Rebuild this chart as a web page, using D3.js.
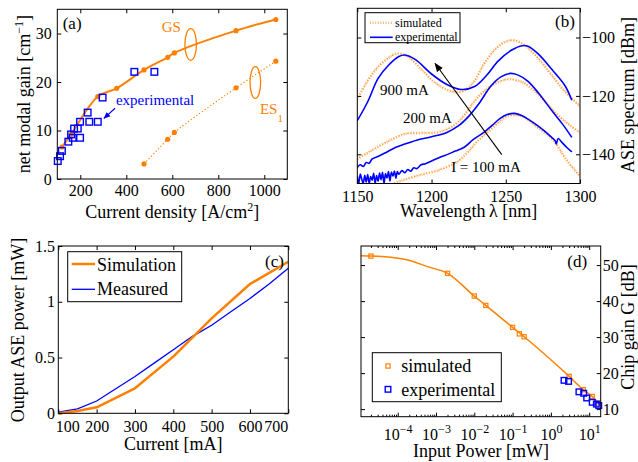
<!DOCTYPE html>
<meta charset="utf-8">
<style>
body, html { margin: 0; padding: 0; background: #fff; }
svg { display: block; font-family: "Liberation Serif", "Times New Roman", serif; }
</style>
<body>
<script src="https://d3js.org/d3.v7.min.js"></script>
<script>

// (a) net modal gain vs current density
var gsDensity = [120, 160, 276, 358, 477, 580, 609, 877, 1050]
var gsGain = [6.6, 9.2, 17.0, 18.7, 22.5, 25.1, 26.0, 30.6, 32.9]
var es1Density = [477, 580, 609, 877, 1050]
var es1Gain = [3.1, 8.2, 9.6, 18.8, 24.3]
var expDensity = [102, 112, 120, 148, 160, 167, 173, 189, 199, 199, 232, 239, 276, 297, 435, 522]
var expGain = [3.7, 4.7, 5.8, 7.7, 9.2, 8.5, 10.4, 10.4, 8.5, 11.8, 13.7, 11.8, 11.8, 16.8, 22.1, 22.1]
var densityTicks = [200, 400, 600, 800, 1000]
var gainTicks = [0, 10, 20, 30]

// (b) ASE spectra, [wavelength nm, dBm]
var exp900 = [[1150,-128.5],[1157,-122],[1164,-114],[1171,-109.5],[1178,-106.5],[1182,-106],[1189,-107.5],[1200,-112.5],[1210,-116],[1220,-117.8],[1229,-116.8],[1237,-113],[1245,-108],[1254,-104.3],[1261,-102.8],[1265,-103],[1272,-105.7],[1281,-110.9],[1290,-116.6],[1294.5,-121.5]]
var exp200 = [[1150,-144.5],[1152,-143.6],[1154,-144.2],[1156,-142.8],[1158,-143.1],[1160,-141.6],[1165,-140.5],[1170,-139.2],[1176,-137.6],[1182,-136.5],[1190,-135.2],[1200,-134],[1210,-132.6],[1218,-130.3],[1225,-127],[1232,-122.6],[1240,-116.6],[1247,-113.4],[1253,-112.3],[1258,-112.8],[1265,-115],[1272,-119],[1281,-125],[1288,-129.5],[1294.5,-134.2]]
var exp100 = [[1150,-147.5],[1151,-150],[1152,-146.8],[1153,-148.5],[1154,-150],[1155,-147.2],[1156,-149.5],[1157,-146.9],[1158,-150],[1159,-147.6],[1160,-148.9],[1161,-146.5],[1162,-150],[1163,-147.3],[1164,-149.2],[1165,-146.4],[1166,-148.7],[1167,-146.2],[1168,-150],[1169,-146.6],[1170,-148.1],[1171,-145.9],[1172,-149.1],[1173,-146.1],[1174,-147.5],[1175,-145.7],[1176,-148.2],[1177,-145.9],[1178,-146.8],[1180,-145.6],[1182,-146.3],[1184,-145.2],[1186,-145.8],[1188,-144.6],[1190,-144.9],[1193,-143.6],[1196,-143.2],[1200,-142.3],[1205,-141.2],[1210,-140.2],[1216,-138.9],[1222,-137.6],[1228,-135],[1235,-132.6],[1241,-130],[1246,-127.8],[1251,-126.4],[1256,-126],[1261,-126.8],[1266,-128.3],[1271,-130],[1276,-132],[1280,-133.8],[1283.3,-135.4],[1284,-136.5],[1285.3,-134.6],[1288,-136],[1291,-137.6],[1294.5,-139.2]]
var sim900 = [[1150,-121],[1155,-116.5],[1160,-112.5],[1165,-109.5],[1171,-107],[1177,-105.5],[1184,-106.5],[1193,-110.8],[1202,-115.3],[1211,-118],[1220,-118.6],[1228,-115.5],[1236,-108.5],[1244,-103.5],[1251,-101.2],[1256,-101],[1262,-102.4],[1271,-106.6],[1280,-112.3],[1289,-118],[1300,-123.5]]
var sim200 = [[1150,-141.5],[1156,-139.8],[1162,-138],[1171,-135.5],[1182,-133],[1193,-132.7],[1205,-132.4],[1216,-129.8],[1223,-126],[1231,-120.5],[1242,-116],[1251,-114.3],[1256,-114.5],[1262,-115.5],[1271,-119],[1284,-126],[1293,-130],[1300,-132.5]]
var sim100 = [[1170,-151],[1180,-149],[1193,-147],[1205,-145.4],[1218,-142.3],[1224,-139.5],[1231,-135.5],[1242,-130.5],[1251,-127],[1257,-126.6],[1262,-127.2],[1271,-130.6],[1282,-135.2],[1291,-142],[1300,-147.5]]
var wavelengthTicks = [1150, 1200, 1250, 1300]
var aseTicks = [-140, -120, -100]

// (c) output ASE power vs current
var simCurrent = [100, 150, 200, 300, 400, 500, 600, 700]
var simPower = [0, 0.02, 0.054, 0.224, 0.508, 0.851, 1.159, 1.359]
var measCurrent = [100, 150, 200, 250, 300, 350, 400, 450, 500, 550, 600, 650, 700]
var measPower = [0.01, 0.04, 0.11, 0.22, 0.33, 0.45, 0.57, 0.69, 0.79, 0.91, 1.03, 1.16, 1.30]
var currentTicks = [100, 200, 300, 400, 500, 600, 700]
var powerTicks = [0, 0.5, 1, 1.5]

// (d) chip gain vs input power
var simInput = [2e-5, 2e-3, 1e-2, 2e-2, 0.1, 0.15, 0.2, 3, 7, 12, 17]
var simChipGain = [52.5, 47.7, 41.4, 38.8, 32.7, 30.9, 30.1, 19.1, 15.4, 13.5, 11.7]
var fitInput = [1.1e-5, 2e-5, 1.5e-4, 6.3e-4, 2e-3, 1e-2, 2e-2, 0.1, 0.2, 3, 7, 12, 19]
var fitChipGain = [52.6, 52.5, 51.6, 49.5, 47.7, 41.4, 38.8, 32.7, 30.1, 19.1, 15.4, 13.5, 11.3]
var expInput = [2.2, 2.9, 5.4, 7.2, 8.6, 12, 15.4, 17.8]
var expChipGain = [18.0, 17.7, 14.8, 14.4, 13.1, 11.9, 11.4, 11.0]
var inputTicks = [1e-4, 1e-3, 1e-2, 1e-1, 1, 10]
var chipGainTicks = [10, 20, 30, 40, 50]

var orange = "#ff8000",
    blue = "#0000ff",
    tickLen = 4

var svg = d3.select("body").append("svg")
    .attr("width", 638)
    .attr("height", 462)

var defs = svg.append("defs")
function arrowHead (id, color, size) {
  defs.append("marker")
      .attr("id", id)
      .attr("viewBox", "0 0 10 10")
      .attr("refX", 9).attr("refY", 5)
      .attr("markerWidth", size).attr("markerHeight", size)
      .attr("markerUnits", "userSpaceOnUse")
      .attr("orient", "auto")
    .append("path")
      .attr("d", "M0,1L10,5L0,9Z")
      .attr("fill", color)
}
arrowHead("arrowBlack", "#000", 9)
arrowHead("arrowBlue", blue, 7)

function noText () { return "" }

function frame (g, x, y, o) {
  var x0 = x.range()[0], x1 = x.range()[1], y0 = y.range()[0], y1 = y.range()[1]
  var fmt = d3.format("d")
  function clean (s) {
    s.attr("font-family", null).attr("font-size", 16)
    s.select(".domain").remove()
  }
  var bottom = g.append("g").attr("transform", "translate(0," + y0 + ")")
    .call(d3.axisBottom(x).tickValues(o.xTicks).tickSize(-tickLen).tickPadding(o.xPad).tickFormat(o.xFormat || fmt))
    .call(clean)
  g.append("g").attr("transform", "translate(0," + y1 + ")")
    .call(d3.axisTop(x).tickValues(o.xTicks).tickSize(-tickLen).tickFormat(noText))
    .call(clean)
  g.append("g").attr("transform", "translate(" + x0 + ",0)")
    .call(d3.axisLeft(y).tickValues(o.yTicks).tickSize(-tickLen).tickPadding(o.yPad).tickFormat(o.yRight ? noText : (o.yFormat || fmt)))
    .call(clean)
  g.append("g").attr("transform", "translate(" + x1 + ",0)")
    .call(d3.axisRight(y).tickValues(o.yTicks).tickSize(-tickLen).tickPadding(o.yPad).tickFormat(o.yRight ? (o.yFormat || fmt) : noText))
    .call(clean)
  g.append("rect")
      .attr("x", x0).attr("y", y1)
      .attr("width", x1 - x0).attr("height", y0 - y1)
      .attr("fill", "none").attr("stroke", "#000").attr("stroke-width", 1)
  return bottom
}

function richText (t, parts) {
  parts.forEach(function (p) {
    var s = t.append("tspan").text(p[0])
    if (p[1]) s.attr("dy", p[1])
    if (p[2]) s.attr("font-size", p[2])
  })
  return t
}

function label (g, x, y, rotate, size, parts) {
  var t = g.append("text")
      .attr("transform", "translate(" + x + "," + y + ")" + (rotate ? " rotate(-90)" : ""))
      .attr("text-anchor", "middle")
      .attr("font-size", size)
  return richText(t, parts)
}

// ---------- (a)
var ga = svg.append("g")
var xa = d3.scaleLinear().domain([100, 1100]).range([57.3, 287.3])
var ya = d3.scaleLinear().domain([0, 35]).range([179, 9.3])

ga.append("path")
    .datum(d3.zip(es1Density, es1Gain))
    .attr("fill", "none").attr("stroke", orange).attr("stroke-width", 1.2)
    .attr("stroke-dasharray", "1.2 2.2")
    .attr("d", d3.line().x(function (d) { return xa(d[0]) }).y(function (d) { return ya(d[1]) }).curve(d3.curveCatmullRom))

ga.append("path")
    .datum(d3.zip(gsDensity, gsGain))
    .attr("fill", "none").attr("stroke", orange).attr("stroke-width", 2)
    .attr("d", d3.line().x(function (d) { return xa(d[0]) }).y(function (d) { return ya(d[1]) }).curve(d3.curveCatmullRom))

ga.selectAll(".gsdot")
    .data(d3.zip(gsDensity, gsGain).concat(d3.zip(es1Density, es1Gain)))
  .enter().append("circle")
    .attr("cx", function (d) { return xa(d[0]) })
    .attr("cy", function (d) { return ya(d[1]) })
    .attr("r", 2.6)
    .attr("fill", orange)

ga.selectAll(".expsq")
    .data(d3.zip(expDensity, expGain))
  .enter().append("rect")
    .attr("x", function (d) { return xa(d[0]) - 3.3 })
    .attr("y", function (d) { return ya(d[1]) - 3.3 })
    .attr("width", 6.6).attr("height", 6.6)
    .attr("fill", "none").attr("stroke", blue).attr("stroke-width", 1.4)

frame(ga, xa, ya, {xTicks: densityTicks, yTicks: gainTicks, xPad: 6, yPad: 5.5})

ga.append("ellipse").attr("cx", xa(680)).attr("cy", ya(27.75)).attr("rx", 5.8).attr("ry", 15.8)
    .attr("fill", "none").attr("stroke", orange).attr("stroke-width", 1.3)
ga.append("ellipse").attr("cx", xa(961)).attr("cy", ya(19.9)).attr("rx", 5.3).attr("ry", 15.8)
    .attr("fill", "none").attr("stroke", orange).attr("stroke-width", 1.3)
ga.append("text").attr("x", xa(554)).attr("y", ya(30.3)).attr("font-size", 15).attr("fill", orange).text("GS")
richText(ga.append("text").attr("x", xa(981)).attr("y", ya(13.5)).attr("font-size", 15).attr("fill", orange),
    [["ES"], ["1", 8, 11]])
ga.append("text").attr("x", xa(355)).attr("y", ya(15.2)).attr("font-size", 15).attr("fill", blue).text("experimental")
ga.append("line")
    .attr("x1", xa(351)).attr("y1", ya(14.6)).attr("x2", xa(303)).attr("y2", ya(12.5))
    .attr("stroke", blue).attr("stroke-width", 1.2).attr("marker-end", "url(#arrowBlue)")
ga.append("text").attr("x", 62.7).attr("y", 29.3).attr("font-size", 17).text("(a)")

label(ga, 172.3, 218, false, 18, [["Current density [A/cm"], ["2", -7, 12], ["]", 7]])
label(ga, 30, 94, true, 18, [["net modal gain [cm"], ["\u22121", -7, 12], ["]", 7]])

// ---------- (b)
var gb = svg.append("g")
var xb = d3.scaleLinear().domain([1150, 1300]).range([357.3, 580])
var yb = d3.scaleLinear().domain([-150, -90]).range([183.5, 8.3])

gb.append("clipPath").attr("id", "clipB")
  .append("rect").attr("x", 357.3).attr("y", 8.3).attr("width", 580 - 357.3).attr("height", 183.5 - 8.3)

var lineB = d3.line()
    .x(function (d) { return xb(d[0]) })
    .y(function (d) { return yb(d[1]) })
    .curve(d3.curveCatmullRom.alpha(0.5))

var plotB = gb.append("g").attr("clip-path", "url(#clipB)")

plotB.selectAll(".simhalo")
    .data([sim900, sim200, sim100])
  .enter().append("path")
    .attr("d", lineB)
    .attr("fill", "none").attr("stroke", "#ffc590").attr("stroke-width", 3)
    .attr("stroke-dasharray", "1 1.6")
plotB.selectAll(".sim")
    .data([sim900, sim200, sim100])
  .enter().append("path")
    .attr("d", lineB)
    .attr("fill", "none").attr("stroke", "#ff9933").attr("stroke-width", 1.2)
    .attr("stroke-dasharray", "1.2 1.8").attr("stroke-dashoffset", 1)

plotB.selectAll(".exp")
    .data([exp900, exp200, exp100])
  .enter().append("path")
    .attr("d", lineB)
    .attr("fill", "none").attr("stroke", blue).attr("stroke-width", 1.6)
    .attr("stroke-linejoin", "round")

frame(gb, xb, yb, {xTicks: wavelengthTicks, yTicks: aseTicks, xPad: 7, yPad: 2, yRight: true})

gb.append("line")
    .attr("x1", xb(1247.3)).attr("y1", yb(-140.1)).attr("x2", xb(1202.4)).attr("y2", yb(-108.9))
    .attr("stroke", "#000").attr("stroke-width", 1.1).attr("marker-end", "url(#arrowBlack)")
gb.append("text").attr("x", xb(1165.3)).attr("y", yb(-119.7)).attr("font-size", 15).text("900 mA")
gb.append("text").attr("x", xb(1180.8)).attr("y", yb(-129.2)).attr("font-size", 15).text("200 mA")
gb.append("text").attr("x", xb(1213.2)).attr("y", yb(-146)).attr("font-size", 15).text("I = 100 mA")
gb.append("text").attr("x", 555).attr("y", 26.7).attr("font-size", 17).text("(b)")

var legB = gb.append("g")
legB.append("rect").attr("x", 365).attr("y", 12.7).attr("width", 95).attr("height", 30)
    .attr("fill", "#fff").attr("stroke", "#000").attr("stroke-width", 1)
legB.append("line").attr("x1", 370).attr("x2", 392.7).attr("y1", 22.7).attr("y2", 22.7)
    .attr("stroke", "#ffb070").attr("stroke-width", 2.4).attr("stroke-dasharray", "1 1.6")
legB.append("line").attr("x1", 370).attr("x2", 392.7).attr("y1", 37.3).attr("y2", 37.3)
    .attr("stroke", blue).attr("stroke-width", 1.6)
legB.append("text").attr("x", 395).attr("y", 26.8).attr("font-size", 12).text("simulated")
legB.append("text").attr("x", 395).attr("y", 41.3).attr("font-size", 12).text("experimental")

label(gb, 468.6, 217, false, 18, [["Wavelength\u2009\u03bb [nm]"]])
label(gb, 634, 95, true, 18, [["ASE spectrum [dBm]"]])

// ---------- (c)
var gc = svg.append("g")
var xc = d3.scaleLinear().domain([100, 700]).range([58.3, 288.3])
var yc = d3.scaleLinear().domain([0, 1.5]).range([413.3, 246])

var lineC = d3.line()
    .x(function (d) { return xc(d[0]) })
    .y(function (d) { return yc(d[1]) })

gc.append("path")
    .datum(d3.zip(measCurrent, measPower))
    .attr("d", lineC)
    .attr("fill", "none").attr("stroke", blue).attr("stroke-width", 1.3)
gc.append("path")
    .datum(d3.zip(simCurrent, simPower))
    .attr("d", lineC)
    .attr("fill", "none").attr("stroke", orange).attr("stroke-width", 2.5)
    .attr("stroke-linejoin", "round")

var bottomC = frame(gc, xc, yc, {xTicks: currentTicks, yTicks: powerTicks, xPad: 7, yPad: 3.3, yFormat: d3.format("")})
// first and last current labels sit inside the frame
bottomC.selectAll(".tick text")
    .attr("dx", function (d) { return d === 100 ? 9 : d === 700 ? -12.5 : 0 })

var legC = gc.append("g")
legC.append("rect").attr("x", 67.7).attr("y", 251.7).attr("width", 114).attr("height", 50)
    .attr("fill", "#fff").attr("stroke", "#000").attr("stroke-width", 1)
legC.append("line").attr("x1", 71.7).attr("x2", 95).attr("y1", 264).attr("y2", 264)
    .attr("stroke", orange).attr("stroke-width", 2.5)
legC.append("line").attr("x1", 71.7).attr("x2", 95).attr("y1", 289.3).attr("y2", 289.3)
    .attr("stroke", blue).attr("stroke-width", 1.3)
legC.append("text").attr("x", 97).attr("y", 270.7).attr("font-size", 18).text("Simulation")
legC.append("text").attr("x", 97).attr("y", 295.3).attr("font-size", 18).text("Measured")
gc.append("text").attr("x", 265).attr("y", 266.7).attr("font-size", 17).text("(c)")

label(gc, 173.3, 450, false, 18, [["Current [mA]"]])
label(gc, 24, 330, true, 18, [["Output ASE power [mW]"]])

// ---------- (d)
var gd = svg.append("g")
var xd = d3.scaleLog().domain([1.1e-5, 20]).range([361, 600.7])
var yd = d3.scaleLinear().domain([7.9, 55.3]).range([416.7, 246])

var minorTicks = []
d3.range(-5, 2).forEach(function (k) {
  d3.range(2, 10).forEach(function (m) {
    var v = m * Math.pow(10, k)
    if (v > 1.1e-5 && v < 20) minorTicks.push(v)
  })
})
gd.append("g").attr("transform", "translate(0,416.7)")
    .call(d3.axisBottom(xd).tickValues(minorTicks).tickSize(-2).tickFormat(noText))
    .call(function (s) { s.select(".domain").remove() })
gd.append("g").attr("transform", "translate(0,246)")
    .call(d3.axisTop(xd).tickValues(minorTicks).tickSize(-2).tickFormat(noText))
    .call(function (s) { s.select(".domain").remove() })

gd.append("path")
    .datum(d3.zip(fitInput, fitChipGain))
    .attr("fill", "none").attr("stroke", orange).attr("stroke-width", 1.5)
    .attr("d", d3.line().x(function (d) { return xd(d[0]) }).y(function (d) { return yd(d[1]) }).curve(d3.curveMonotoneX))

gd.selectAll(".simsq")
    .data(d3.zip(simInput, simChipGain))
  .enter().append("rect")
    .attr("x", function (d) { return xd(d[0]) - 2.1 })
    .attr("y", function (d) { return yd(d[1]) - 2.1 })
    .attr("width", 4.2).attr("height", 4.2)
    .attr("fill", "none").attr("stroke", orange).attr("stroke-width", 1.2)

gd.selectAll(".expsq")
    .data(d3.zip(expInput, expChipGain))
  .enter().append("rect")
    .attr("x", function (d) { return xd(d[0]) - 2.8 })
    .attr("y", function (d) { return yd(d[1]) - 2.8 })
    .attr("width", 5.6).attr("height", 5.6)
    .attr("fill", "none").attr("stroke", blue).attr("stroke-width", 1.4)

var bottomD = frame(gd, xd, yd, {xTicks: inputTicks, yTicks: chipGainTicks, xPad: 12, yPad: 2, yRight: true, xFormat: noText})
bottomD.selectAll(".tick text")
    .each(function (d) {
      var e = Math.round(Math.log10(d))
      var t = d3.select(this)
      t.append("tspan").text("10")
      t.append("tspan").attr("dy", -7).attr("font-size", 12).text(String(e).replace("-", "\u2212"))
    })

var legD = gd.append("g")
legD.append("rect").attr("x", 372.3).attr("y", 352.7).attr("width", 129).attr("height", 49)
    .attr("fill", "#fff").attr("stroke", "#000").attr("stroke-width", 1)
legD.append("rect").attr("x", 385.9).attr("y", 363.9).attr("width", 4.2).attr("height", 4.2)
    .attr("fill", "none").attr("stroke", orange).attr("stroke-width", 1.2)
legD.append("rect").attr("x", 385.2).attr("y", 386.5).attr("width", 5.6).attr("height", 5.6)
    .attr("fill", "none").attr("stroke", blue).attr("stroke-width", 1.4)
legD.append("text").attr("x", 401.3).attr("y", 371.7).attr("font-size", 18).text("simulated")
legD.append("text").attr("x", 401.3).attr("y", 395.5).attr("font-size", 18).text("experimental")
gd.append("text").attr("x", 567.3).attr("y", 267.3).attr("font-size", 17).text("(d)")

label(gd, 480.9, 457, false, 18, [["Input Power [mW]"]])
label(gd, 634, 327, true, 18, [["Chip gain G [dB]"]])

</script>
</body>
